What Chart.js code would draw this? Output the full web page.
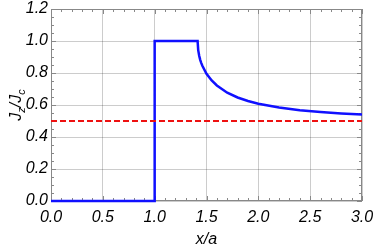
<!DOCTYPE html>
<html><head><meta charset="utf-8">
<script src="https://cdn.jsdelivr.net/npm/chart.js@4/dist/chart.umd.min.js"></script>
<style>html,body{margin:0;padding:0;background:#fff}</style>
</head><body>
<canvas id="c" width="374" height="248"></canvas>
<script>
const curveX=[0,1,1,1.4142,1.42,1.43,1.44,1.45,1.46,1.5,1.55,1.6,1.7,1.8,1.9,2.0,2.2,2.4,2.6,2.8,3.0];
const curveY=[0,0,1,1,0.943,0.906,0.881,0.862,0.845,0.795,0.753,0.722,0.677,0.647,0.625,0.608,0.584,0.567,0.556,0.547,0.540];
const refX=[0,3];
const refY=[0.5,0.5];
const xRange=[0,3], xStep=0.5, xMinor=0.1;
const yRange=[0,1.2], yStep=0.2, yMinor=0.05;
const xTitle='x/a';
const yTitleParts=[['J',0],['z',1],['/',0],['J',0],['c',1]];

const FONT='"Liberation Sans", Arial, sans-serif';
const pts=(xs,ys)=>xs.map((x,i)=>({x:x,y:ys[i]}));

const framePlugin={
  id:'frame',
  beforeDatasetsDraw(chart){
    const {ctx,chartArea:a,scales:{x,y}}=chart;
    ctx.save();
    ctx.strokeStyle='#888';ctx.lineWidth=1;
    ctx.strokeRect(a.left+0.5,a.top+0.5,a.right-a.left-1,a.bottom-a.top-1);
    ctx.beginPath();
    const nx=Math.round((xRange[1]-xRange[0])/xMinor);
    for(let i=0;i<=nx;i++){
      const v=xRange[0]+i*xMinor;
      const major=Math.abs(v/xStep-Math.round(v/xStep))<1e-6;
      const L=major?5:3;
      const px=Math.round(x.getPixelForValue(v))+0.5;
      ctx.moveTo(px,a.bottom);ctx.lineTo(px,a.bottom-L);
      ctx.moveTo(px,a.top);ctx.lineTo(px,a.top+L);
    }
    const ny=Math.round((yRange[1]-yRange[0])/yMinor);
    for(let i=0;i<=ny;i++){
      const v=yRange[0]+i*yMinor;
      const major=Math.abs(v/yStep-Math.round(v/yStep))<1e-6;
      const L=major?5:3;
      const py=Math.round(y.getPixelForValue(v))+0.5;
      ctx.moveTo(a.left,py);ctx.lineTo(a.left+L,py);
      ctx.moveTo(a.right,py);ctx.lineTo(a.right-L,py);
    }
    ctx.stroke();
    ctx.restore();
  },
  afterDraw(chart){
    const {ctx,chartArea:a}=chart;
    ctx.save();
    ctx.fillStyle='#000';
    ctx.font='italic 16px '+FONT;
    ctx.textAlign='center';ctx.textBaseline='middle';
    ctx.fillText(xTitle,(a.left+a.right)/2,240);
    const big='italic 16px '+FONT, small='italic 11px '+FONT;
    let w=0;
    yTitleParts.forEach(([t,s])=>{ctx.font=s?small:big;w+=ctx.measureText(t).width;});
    ctx.translate(16,(a.top+a.bottom)/2);
    ctx.rotate(-Math.PI/2);
    ctx.textAlign='left';ctx.textBaseline='alphabetic';
    let cx=-w/2;
    yTitleParts.forEach(([t,s])=>{
      ctx.font=s?small:big;
      ctx.fillText(t,cx,s?9:5);
      cx+=ctx.measureText(t).width;
    });
    ctx.restore();
  }
};

new Chart(document.getElementById('c'),{
  type:'line',
  data:{datasets:[
    {data:pts(refX,refY),borderColor:'#ee1111',borderWidth:2,borderDash:[6,3],pointRadius:0,tension:0,clip:false},
    {data:pts(curveX,curveY),borderColor:'#1010ff',borderWidth:2.5,pointRadius:0,tension:0,clip:false}
  ]},
  options:{
    responsive:false,animation:false,
    layout:{padding:{left:0,right:12,top:9,bottom:0}},
    plugins:{legend:{display:false},tooltip:{enabled:false}},
    scales:{
      x:{type:'linear',min:xRange[0],max:xRange[1],
        afterFit(s){s.height=47;s.paddingLeft=0;s.paddingRight=0;},
        border:{display:false},
        grid:{color:'rgba(0,0,0,0.2)',drawTicks:false},
        ticks:{stepSize:xStep,padding:7,color:'#000',font:{family:FONT,size:16,style:'italic'},
          callback:v=>Number(v).toFixed(1)}},
      y:{type:'linear',min:yRange[0],max:yRange[1],
        afterFit(s){s.width=51;s.paddingTop=0;s.paddingBottom=0;},
        border:{display:false},
        grid:{color:'rgba(0,0,0,0.2)',drawTicks:false},
        ticks:{stepSize:yStep,padding:3,color:'#000',font:{family:FONT,size:16,style:'italic'},
          callback:v=>Number(v).toFixed(1)}}
    }
  },
  plugins:[framePlugin]
});
</script>
</body></html>
